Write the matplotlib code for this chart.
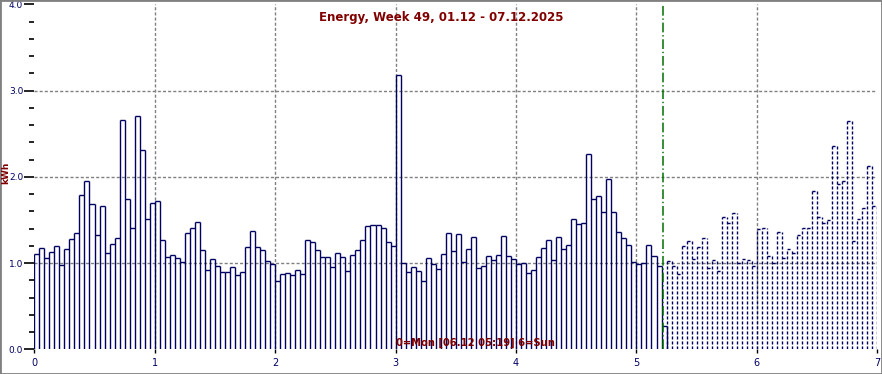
import numpy as np
import matplotlib
matplotlib.use("Agg")
import matplotlib.pyplot as plt
from matplotlib.patches import Rectangle

plt.rcParams["lines.scale_dashes"] = False

# hourly energy, kWh, Mon 00:00 .. Sat 05:00 (last hour still running)
measured = [
    1.10, 1.17, 1.06, 1.13, 1.20, 0.98, 1.16, 1.28, 1.35, 1.79, 1.95, 1.69,
    1.33, 1.66, 1.12, 1.22, 1.29, 2.66, 1.74, 1.41, 2.70, 2.31, 1.51, 1.70,
    1.72, 1.27, 1.07, 1.09, 1.06, 1.01, 1.35, 1.41, 1.48, 1.15, 0.92, 1.05,
    0.97, 0.90, 0.90, 0.95, 0.86, 0.90, 1.19, 1.37, 1.19, 1.15, 1.02, 0.99,
    0.79, 0.87, 0.88, 0.86, 0.92, 0.87, 1.27, 1.24, 1.15, 1.07, 1.07, 0.95,
    1.12, 1.07, 0.91, 1.09, 1.15, 1.27, 1.43, 1.44, 1.44, 1.41, 1.24, 1.20,
    3.18, 1.00, 0.90, 0.95, 0.91, 0.79, 1.06, 0.99, 0.93, 1.10, 1.35, 1.14,
    1.34, 1.01, 1.16, 1.30, 0.94, 0.97, 1.08, 1.03, 1.09, 1.31, 1.08, 1.05,
    0.99, 1.00, 0.88, 0.92, 1.07, 1.17, 1.27, 1.03, 1.30, 1.16, 1.21, 1.51,
    1.45, 1.46, 2.27, 1.74, 1.78, 1.59, 1.97, 1.59, 1.36, 1.29, 1.21, 1.01,
    0.99, 1.00, 1.21, 1.08, 0.97, 0.27,
]
# comparison values for the rest of the week (dashed bars)
expected = [
    1.02, 0.97, 0.87, 1.20, 1.26, 1.05, 1.19, 1.29, 0.94, 1.03, 0.91, 1.53,
    1.47, 1.58, 1.00, 1.05, 1.03, 0.97, 1.40, 1.41, 1.08, 1.00, 1.36, 1.06,
    1.16, 1.12, 1.33, 1.41, 1.41, 1.83, 1.53, 1.47, 1.50, 2.36, 1.92, 1.95,
    2.65, 1.26, 1.51, 1.64, 2.13, 1.66,
]

title = "Energy, Week 49, 01.12 - 07.12.2025"
footer = "0=Mon [06.12 05:19] 6=Sun"
now_day = 5 + (5 * 60 + 19) / 1440

navy = "#000060"
darkred = "#800000"
gray = "#808080"

fig = plt.figure(figsize=(8.82, 3.74), dpi=100)
ax = fig.add_axes([34.3 / 882, 24.7 / 374, 843 / 882, 345 / 374])

# grid first so the open bars sit on top
for y in [1, 2, 3]:
    ax.axhline(y, color=gray, lw=1, linestyle=(0, (2.2, 1.5)), zorder=0)
for x in range(1, 7):
    ax.axvline(x, color=gray, lw=1, linestyle=(0, (2.2, 1.5)), zorder=0)


def draw_bars(start, values, style):
    h = np.array(values)
    left = (start + np.arange(len(h))) / 24
    right = left + 1 / 24
    ax.hlines(h, left, right, colors=navy, lw=1.0, linestyles=style)
    edges = np.append(left, right[-1])
    tops = np.maximum(np.append(h, 0), np.append(0, h))
    ax.vlines(edges, 0, tops, colors=navy, lw=1.0, linestyles=style)


draw_bars(0, measured, "solid")
draw_bars(len(measured), expected, (0, (2.2, 1.4)))

ax.axvline(now_day, color="#007000", lw=1.1, linestyle=(0, (7, 2, 1, 2)))

ax.set_xlim(0, 7)
ax.set_ylim(0, 4)
for s in ax.spines.values():
    s.set_visible(False)

ax.set_xticks(range(8))
ax.set_yticks([0, 1, 2, 3, 4])
ax.set_yticklabels(["0.0", "1.0", "2.0", "3.0", "4.0"])
ax.set_yticks(np.arange(0, 4, 0.2), minor=True)
ax.tick_params(axis="y", which="major", length=7, width=1.2, pad=1,
               labelsize=6.5, labelcolor=navy)
ax.tick_params(axis="y", which="minor", length=3.6, width=1.2)
ax.tick_params(axis="x", length=3, width=1, pad=3, labelsize=7, labelcolor=navy)

fig.text(441 / 882, 1 - 18 / 374, title, ha="center", va="center",
         color=darkred, fontweight="bold", fontsize=8.5)
fig.text(6 / 882, 1 - 173 / 374, "kWh", ha="center", va="center", rotation=90,
         color=darkred, fontweight="bold", fontsize=6.5)
fig.text(475 / 882, 1 - 343 / 374, footer, ha="center", va="center",
         color=darkred, fontweight="bold", fontsize=7.2)

fig.patches.append(Rectangle((0, 0), 1, 1, transform=fig.transFigure,
                             fill=False, edgecolor=gray, lw=2))

fig.savefig("out.png", dpi=100)
